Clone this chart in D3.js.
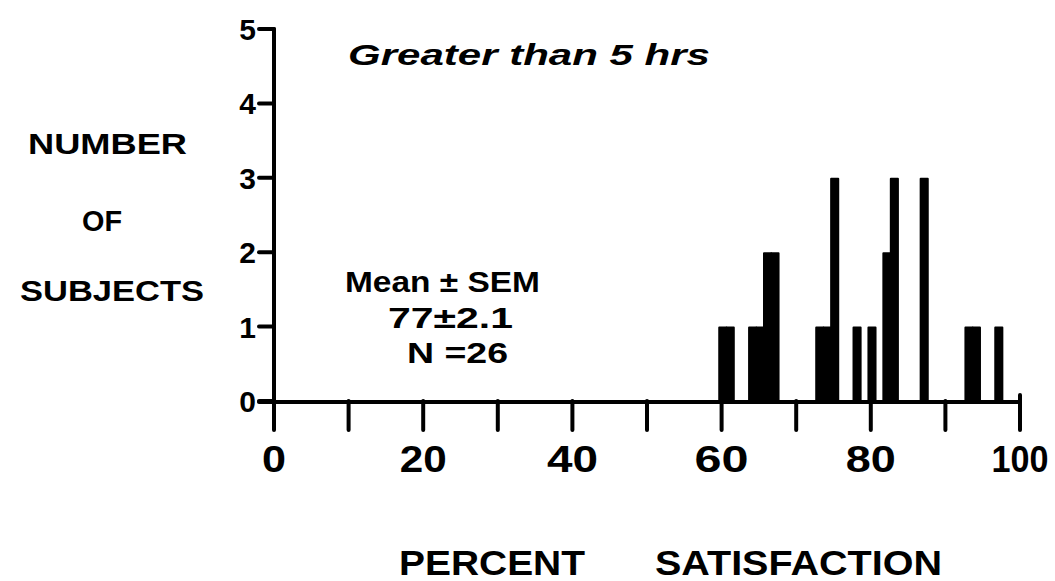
<!DOCTYPE html>
<html><head><meta charset="utf-8">
<script src="https://cdn.jsdelivr.net/npm/d3@7"></script>
<style>body{margin:0;background:#fff}svg{display:block}</style>
</head><body>
<script>
const binValues = [60,61,64,65,66,67,73,74,75,78,80,82,83,87,93,94,97];
const binCounts = [1,1,1,1,2,2,1,1,3,1,1,2,3,3,1,1,1];
const xTicks = [0,10,20,30,40,50,60,70,80,90,100];
const xTickLabels = ["0","","20","","40","","60","","80","","100"];
const yTicks = [0,1,2,3,4,5];
const title = "Greater than 5 hrs";
const statLines = ["Mean ± SEM","77±2.1","N =26"];
const yLabelLines = ["NUMBER","OF","SUBJECTS"];
const xLabelWords = ["PERCENT","SATISFACTION"];

const W=1055,H=581;
const svg=d3.select("body").append("svg").attr("width",W).attr("height",H);
const x=d3.scaleLinear().domain([0,100]).range([274,1020]);
const y=d3.scaleLinear().domain([0,5]).range([401,29]);
const font="'Liberation Sans', Arial, sans-serif";

// bars
const data=binValues.map((v,i)=>({v,c:binCounts[i]}));
svg.selectAll("rect.bar").data(data).enter().append("rect")
 .attr("class","bar")
 .attr("x",d=>x(d.v-0.45)+1).attr("width",d=>x(d.v+0.5)-x(d.v-0.45))
 .attr("y",d=>y(d.c)+1).attr("height",d=>y(0)-y(d.c)-1)
 .attr("fill","#000").attr("stroke","#000").attr("stroke-width",2).attr("stroke-linejoin","round");

// axes
const g=svg.append("g").attr("stroke","#000").attr("stroke-width",4).attr("stroke-linecap","round").attr("fill","none");
g.append("line").attr("x1",x(0)).attr("x2",x(0)).attr("y1",y(5)).attr("y2",430);
g.append("line").attr("x1",259).attr("x2",x(100)).attr("y1",y(0)+1).attr("y2",y(0)+1);
g.append("line").attr("x1",x(100)).attr("x2",x(100)).attr("y1",y(0)+1).attr("y2",y(0)-6);
g.selectAll("line.yt").data(yTicks).enter().append("line").attr("class","yt")
 .attr("x1",259).attr("x2",x(0)).attr("y1",d=>y(d)).attr("y2",d=>y(d));
g.selectAll("line.xt").data(xTicks.slice(1)).enter().append("line").attr("class","xt")
 .attr("x1",d=>x(d)).attr("x2",d=>x(d)).attr("y1",y(0)).attr("y2",430);

// y tick labels
svg.selectAll("text.yl").data(yTicks).enter().append("text")
 .attr("x",256).attr("y",d=>y(d)+11).attr("text-anchor","end")
 .attr("font-family",font).attr("font-weight","bold").attr("font-size",30)
 .text(d=>d);
// x tick labels
const xlw={"0":24,"20":47,"40":51,"60":54,"80":50,"100":57};
svg.selectAll("text.xl").data(xTicks.filter((d,i)=>xTickLabels[i]!=="")).enter().append("text")
 .attr("x",d=>x(d)).attr("y",472).attr("text-anchor","middle")
 .attr("font-family",font).attr("font-weight","bold").attr("font-size",37)
 .attr("textLength",d=>xlw[String(d)]).attr("lengthAdjust","spacingAndGlyphs")
 .text(d=>xTickLabels[xTicks.indexOf(d)]);

// title
svg.append("text").attr("x",348).attr("y",65).attr("font-family",font)
 .attr("font-style","italic").attr("font-weight","bold").attr("font-size",30)
 .attr("textLength",362).attr("lengthAdjust","spacingAndGlyphs").text(title);

// y label
const yLab=[{x:28,w:159,y:154},{x:82,w:40,y:231},{x:20,w:184,y:301}];
svg.selectAll("text.ylab").data(yLabelLines).enter().append("text")
 .attr("x",(d,i)=>yLab[i].x).attr("y",(d,i)=>yLab[i].y)
 .attr("font-family",font).attr("font-weight","bold").attr("font-size",29)
 .attr("textLength",(d,i)=>yLab[i].w).attr("lengthAdjust","spacingAndGlyphs").text(d=>d);

// stats
const st=[{x:345,w:195,y:292},{x:388,w:125,y:328},{x:407,w:101,y:363}];
svg.selectAll("text.st").data(statLines).enter().append("text")
 .attr("x",(d,i)=>st[i].x).attr("y",(d,i)=>st[i].y)
 .attr("font-family",font).attr("font-weight","bold").attr("font-size",30)
 .attr("textLength",(d,i)=>st[i].w).attr("lengthAdjust","spacingAndGlyphs").text(d=>d);

// x label
const xl=[{x:399,w:186},{x:655,w:287}];
svg.selectAll("text.xlab").data(xLabelWords).enter().append("text")
 .attr("x",(d,i)=>xl[i].x).attr("y",575)
 .attr("font-family",font).attr("font-weight","bold").attr("font-size",35)
 .attr("textLength",(d,i)=>xl[i].w).attr("lengthAdjust","spacingAndGlyphs").text(d=>d);
</script>
</body></html>
